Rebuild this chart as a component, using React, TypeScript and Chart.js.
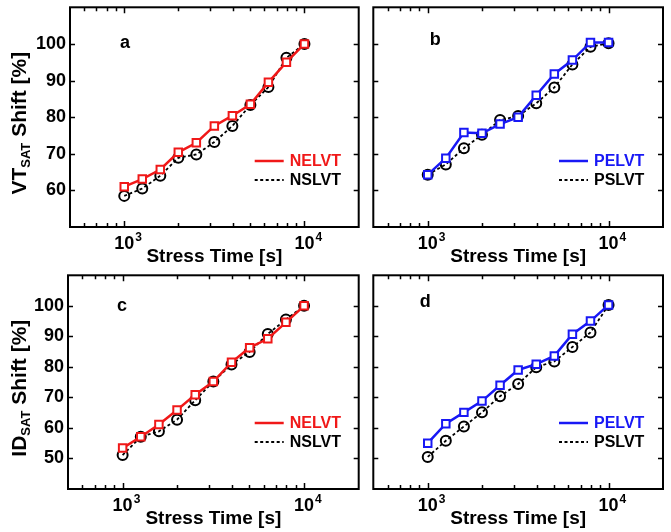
import React, { useEffect, useRef } from "react";
import { Chart, registerables } from "chart.js";

Chart.register(...registerables);

const FONT = '"Liberation Sans", Arial, Helvetica, sans-serif';

// Stress time (s)
const stressTime = [1000, 1259, 1585, 1995, 2512, 3162, 3981, 5012, 6310, 7943, 10000];

// VT_SAT shift [%]
const vtNELVT = [61.0, 63.1, 65.7, 70.4, 73.0, 77.6, 80.4, 83.5, 89.5, 95.0, 100.0];
const vtNSLVT = [58.5, 60.5, 64.0, 68.9, 69.8, 73.2, 77.6, 83.3, 88.2, 96.2, 100.0];
const vtPELVT = [64.3, 68.8, 75.8, 75.6, 78.1, 80.0, 86.0, 91.8, 95.6, 100.4, 100.4];
const vtPSLVT = [64.3, 67.1, 71.5, 75.2, 79.2, 80.3, 83.8, 88.1, 94.4, 99.2, 100.2];

// ID_SAT shift [%]
const idNELVT = [53.4, 57.1, 61.1, 65.9, 70.9, 75.2, 81.5, 86.3, 89.2, 94.6, 100.0];
const idNSLVT = [51.1, 57.1, 58.9, 62.7, 69.1, 75.2, 80.8, 84.9, 90.8, 95.5, 100.0];
const idPELVT = [55.0, 61.4, 65.1, 68.8, 74.0, 79.0, 80.9, 83.6, 90.7, 95.0, 100.3];
const idPSLVT = [50.5, 55.8, 60.5, 65.1, 70.4, 74.4, 79.9, 81.8, 86.5, 91.3, 100.3];

const xAxisMin = 500;
const xAxisMax = 20000;
const xMinorTicks = [600, 700, 800, 900, 1000, 2000, 3000, 4000, 5000, 6000, 7000, 8000, 9000, 10000];
const xMajorTicks = [1000, 10000];
const xMajorExponents = ["3", "4"];
const vtTicks = [60, 70, 80, 90, 100];
const idTicks = [50, 60, 70, 80, 90, 100];

const RED = "#f01818";
const BLUE = "#1818f5";

type Panel = {
  key: string;
  letter: string;
  left: number;
  top: number;
  width: number;
  height: number;
  pad: { left: number; top: number; right: number; bottom: number };
  axisW: number;
  showY: boolean;
  yMin: number;
  yMax: number;
  yTicks: number[];
  yTitle: string[];
  elvt: number[];
  slvt: number[];
  color: string;
  names: string[];
  letterPos: number[];
};

const panels: Panel[] = [
  {
    key: "a", letter: "a", left: 0, top: 0, width: 366, height: 268,
    pad: { left: 0, top: 7, right: 5, bottom: 41 }, axisW: 70, showY: true,
    yMin: 50, yMax: 110, yTicks: vtTicks, yTitle: ["VT", "SAT", " Shift [%]"],
    elvt: vtNELVT, slvt: vtNSLVT, color: RED, names: ["NELVT", "NSLVT"], letterPos: [55, 36],
  },
  {
    key: "b", letter: "b", left: 366, top: 0, width: 305, height: 268,
    pad: { left: 4, top: 7, right: 8, bottom: 41 }, axisW: 0, showY: false,
    yMin: 50, yMax: 110, yTicks: vtTicks, yTitle: [],
    elvt: vtPELVT, slvt: vtPSLVT, color: BLUE, names: ["PELVT", "PSLVT"], letterPos: [62, 33],
  },
  {
    key: "c", letter: "c", left: 0, top: 268, width: 366, height: 264,
    pad: { left: 0, top: 4, right: 5, bottom: 43 }, axisW: 68, showY: true,
    yMin: 40, yMax: 110, yTicks: idTicks, yTitle: ["ID", "SAT", " Shift [%]"],
    elvt: idNELVT, slvt: idNSLVT, color: RED, names: ["NELVT", "NSLVT"], letterPos: [54, 31],
  },
  {
    key: "d", letter: "d", left: 366, top: 268, width: 305, height: 264,
    pad: { left: 4, top: 4, right: 8, bottom: 43 }, axisW: 0, showY: false,
    yMin: 40, yMax: 110, yTicks: idTicks, yTitle: [],
    elvt: idPELVT, slvt: idPSLVT, color: BLUE, names: ["PELVT", "PSLVT"], letterPos: [52, 27],
  },
];

function makeDecorPlugin(p: Panel) {
  return {
    id: "decor_" + p.key,
    afterDraw(chart: any) {
      const { ctx, chartArea: a, scales } = chart;
      const xs = scales.x;
      const ys = scales.y;
      ctx.save();
      ctx.strokeStyle = "#000";
      ctx.fillStyle = "#000";
      ctx.setLineDash([]);

      // frame
      ctx.lineWidth = 2;
      ctx.strokeRect(a.left, a.top, a.right - a.left, a.bottom - a.top);

      // x ticks (inward, top and bottom)
      ctx.lineWidth = 1.5;
      for (const v of xMinorTicks) {
        const px = Math.round(xs.getPixelForValue(v)) + 0.5;
        const len = xMajorTicks.includes(v) ? 6 : 4;
        ctx.beginPath();
        ctx.moveTo(px, a.bottom);
        ctx.lineTo(px, a.bottom - len);
        ctx.moveTo(px, a.top);
        ctx.lineTo(px, a.top + len);
        ctx.stroke();
      }
      // y ticks (inward, left and right)
      for (const v of p.yTicks) {
        const py = Math.round(ys.getPixelForValue(v)) + 0.5;
        ctx.beginPath();
        ctx.moveTo(a.left, py);
        ctx.lineTo(a.left + 5, py);
        ctx.moveTo(a.right, py);
        ctx.lineTo(a.right - 5, py);
        ctx.stroke();
      }

      // x tick labels with superscript exponent
      const base = a.bottom + 22;
      xMajorTicks.forEach((v, i) => {
        const px = xs.getPixelForValue(v);
        ctx.font = `bold 18px ${FONT}`;
        ctx.textAlign = "center";
        ctx.textBaseline = "alphabetic";
        ctx.fillText("10", px, base);
        const w = ctx.measureText("10").width;
        ctx.font = `bold 12px ${FONT}`;
        ctx.textAlign = "left";
        ctx.fillText(xMajorExponents[i], px + w / 2 + 1, base - 8);
      });

      // x title
      ctx.font = `bold 19px ${FONT}`;
      ctx.textAlign = "center";
      ctx.textBaseline = "alphabetic";
      ctx.fillText("Stress Time [s]", (a.left + a.right) / 2, a.bottom + 35);

      // y title (rotated with subscript)
      if (p.showY) {
        const [main, sub, rest] = p.yTitle;
        ctx.save();
        ctx.translate(26, (a.top + a.bottom) / 2 + 6);
        ctx.rotate(-Math.PI / 2);
        ctx.textAlign = "left";
        ctx.textBaseline = "alphabetic";
        ctx.font = `bold 21px ${FONT}`;
        const wMain = ctx.measureText(main).width;
        const wRest = ctx.measureText(rest).width;
        ctx.font = `bold 13px ${FONT}`;
        const wSub = ctx.measureText(sub).width;
        const total = wMain + wSub + wRest;
        let x0 = -total / 2;
        ctx.font = `bold 21px ${FONT}`;
        ctx.fillText(main, x0, 0);
        x0 += wMain;
        ctx.font = `bold 13px ${FONT}`;
        ctx.fillText(sub, x0, 4);
        x0 += wSub;
        ctx.font = `bold 21px ${FONT}`;
        ctx.fillText(rest, x0, 0);
        ctx.restore();
      }

      // panel letter
      ctx.font = `bold 18px ${FONT}`;
      ctx.textAlign = "center";
      ctx.textBaseline = "middle";
      ctx.fillText(p.letter, a.left + p.letterPos[0], a.top + p.letterPos[1]);

      // legend
      const ds = chart.data.datasets;
      const rows = [a.bottom - 66, a.bottom - 47];
      ds.forEach((d: any, i: number) => {
        const y = rows[i];
        ctx.beginPath();
        ctx.strokeStyle = d.borderColor;
        ctx.lineWidth = d.borderWidth;
        ctx.setLineDash(d.borderDash || []);
        ctx.moveTo(a.right - 104, y);
        ctx.lineTo(a.right - 75, y);
        ctx.stroke();
        ctx.setLineDash([]);
        ctx.font = `bold 16px ${FONT}`;
        ctx.textAlign = "left";
        ctx.textBaseline = "middle";
        ctx.fillStyle = i === 0 ? d.borderColor : "#000";
        ctx.fillText(d.label, a.right - 69, y + 1);
      });
      ctx.restore();
    },
  };
}

function PanelChart({ p }: { p: Panel }) {
  const ref = useRef<HTMLCanvasElement | null>(null);
  useEffect(() => {
    if (!ref.current) return;
    const chart = new Chart(ref.current, {
      type: "line",
      data: {
        datasets: [
          {
            label: p.names[0],
            data: stressTime.map((t, i) => ({ x: t, y: p.elvt[i] })),
            borderColor: p.color,
            backgroundColor: "#ffffff",
            borderWidth: 2.5,
            pointStyle: "rect",
            pointRadius: 5.3,
            pointBorderWidth: 2,
            pointBorderColor: p.color,
            pointBackgroundColor: "#ffffff",
            tension: 0,
          },
          {
            label: p.names[1],
            data: stressTime.map((t, i) => ({ x: t, y: p.slvt[i] })),
            borderColor: "#000000",
            backgroundColor: "rgba(0,0,0,0)",
            borderWidth: 1.8,
            borderDash: [3, 2.5],
            pointStyle: "circle",
            pointRadius: 5,
            pointBorderWidth: 2,
            pointBorderColor: "#000000",
            pointBackgroundColor: "rgba(255,255,255,0)",
            tension: 0,
          },
        ],
      } as any,
      options: {
        animation: false,
        responsive: false,
        maintainAspectRatio: false,
        events: [],
        layout: { padding: p.pad },
        plugins: { legend: { display: false }, tooltip: { enabled: false } },
        scales: {
          x: { type: "logarithmic", min: xAxisMin, max: xAxisMax, display: false },
          y: {
            type: "linear",
            min: p.yMin,
            max: p.yMax,
            display: p.showY,
            grid: { display: false, drawTicks: false },
            border: { display: false },
            ticks: {
              stepSize: 10,
              padding: 4,
              autoSkip: false,
              color: "#000",
              font: { family: FONT, size: 18, weight: "bold" },
              callback: (v: any) => (p.yTicks.includes(Number(v)) ? String(v) : ""),
            },
            afterFit: (s: any) => {
              s.width = p.axisW;
              s.paddingTop = 0;
              s.paddingBottom = 0;
            },
          },
        },
      } as any,
      plugins: [makeDecorPlugin(p)],
    });
    return () => chart.destroy();
  }, [p]);
  return (
    <canvas
      ref={ref}
      width={p.width}
      height={p.height}
      style={{ position: "absolute", left: p.left, top: p.top, width: p.width, height: p.height }}
    />
  );
}

export default function App() {
  return (
    <div style={{ position: "absolute", left: 0, top: 0, width: 671, height: 532, background: "#fff" }}>
      {panels.map((p) => (
        <PanelChart key={p.key} p={p} />
      ))}
    </div>
  );
}
